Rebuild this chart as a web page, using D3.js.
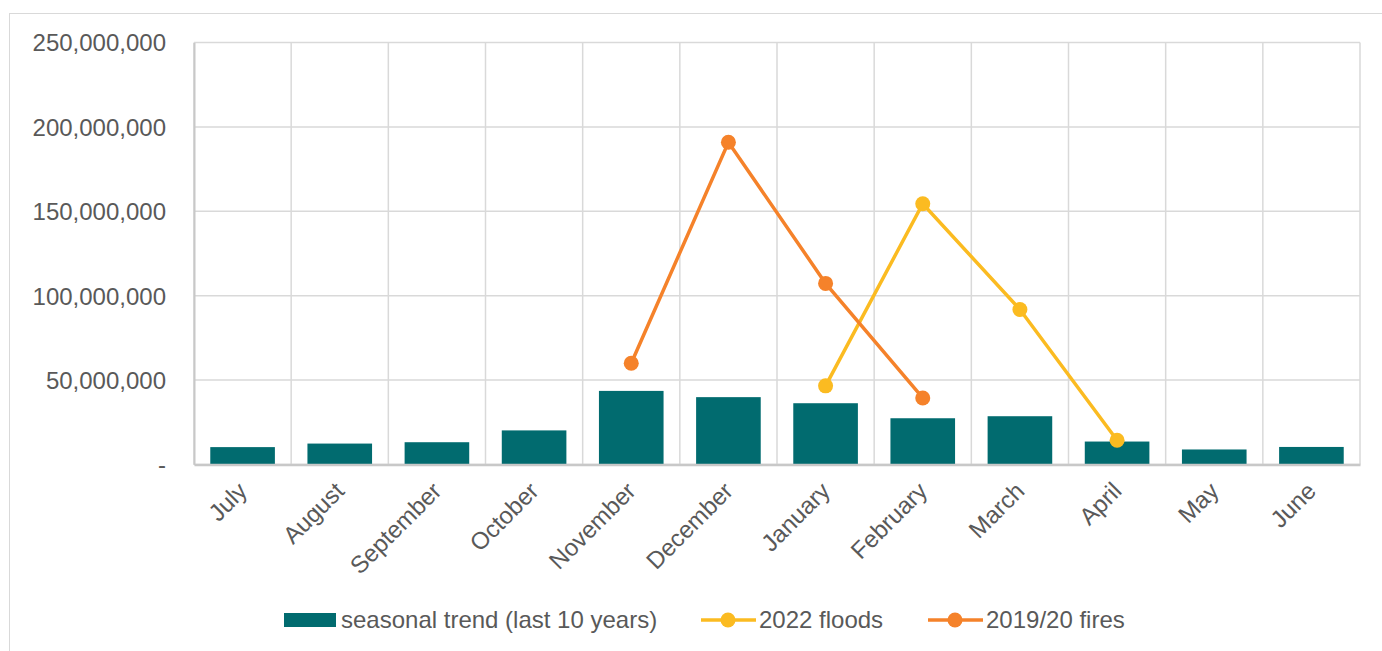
<!DOCTYPE html>
<html>
<head>
<meta charset="utf-8">
<script src="https://d3js.org/d3.v7.min.js"></script>
<style>
  body { margin: 0; background: #fff; }
  text { font-family: "Liberation Sans", Arial, sans-serif; fill: #595959; font-size: 24px; }
</style>
</head>
<body>
<svg width="1382" height="651"></svg>
<script>
var months = ["July", "August", "September", "October", "November", "December",
              "January", "February", "March", "April", "May", "June"];
var seasonal = [10.3, 12.4, 13.2, 20.2, 43.6, 39.9, 36.3, 27.4, 28.6, 13.6, 8.9, 10.4].map(function(v) { return v * 1e6; });
var floodMonths = ["January", "February", "March", "April"];
var floods = [46.6, 154.5, 91.8, 14.4].map(function(v) { return v * 1e6; });
var fireMonths = ["November", "December", "January", "February"];
var fires = [60, 190.9, 107.3, 39.4].map(function(v) { return v * 1e6; });
var yTicks = [0, 50e6, 100e6, 150e6, 200e6, 250e6];

var teal = "#016b6f", yellow = "#fbbb21", orange = "#f5822a";

var svg = d3.select("svg");
var margin = { left: 194, right: 22, top: 42.5, bottom: 186.5 };
var width = 1382 - margin.left - margin.right;
var height = 651 - margin.top - margin.bottom;

// outer chart frame
svg.append("rect")
  .attr("x", 9.5).attr("y", 13.5)
  .attr("width", 1382).attr("height", 660)
  .attr("fill", "none").attr("stroke", "#d9d9d9");

var g = svg.append("g").attr("transform", "translate(" + margin.left + "," + margin.top + ")");

var x = d3.scaleBand().domain(months).range([0, width]).paddingInner(0.335).paddingOuter(0.1675);
var y = d3.scaleLinear().domain([0, 250e6]).range([height, 0]);
var step = x.step();

// grid
g.selectAll(".hgrid").data(yTicks).enter().append("line")
  .attr("x1", 0).attr("x2", width)
  .attr("y1", function(d) { return y(d); }).attr("y2", function(d) { return y(d); })
  .attr("stroke", "#d9d9d9").attr("stroke-width", 1.5);
g.selectAll(".vgrid").data(d3.range(months.length + 1)).enter().append("line")
  .attr("x1", function(i) { return i * step; }).attr("x2", function(i) { return i * step; })
  .attr("y1", 0).attr("y2", height)
  .attr("stroke", "#d9d9d9").attr("stroke-width", 1.5);

// y axis
var yAxis = g.append("g").call(d3.axisLeft(y).tickValues(yTicks).tickSize(0).tickPadding(28)
  .tickFormat(function(d) { return d === 0 ? "-" : d3.format(",")(d); }));
yAxis.select(".domain").attr("stroke", "#c8c8c8").attr("stroke-width", 2);
yAxis.selectAll("text").attr("dy", "0.35em");

// bars
g.selectAll(".bar").data(seasonal).enter().append("rect")
  .attr("x", function(d, i) { return x(months[i]); })
  .attr("y", function(d) { return y(d); })
  .attr("width", x.bandwidth())
  .attr("height", function(d) { return height - y(d); })
  .attr("fill", teal);

// x axis
var xAxis = g.append("g").attr("transform", "translate(0," + height + ")")
  .call(d3.axisBottom(x).tickSize(0).tickPadding(0));
xAxis.select(".domain").attr("stroke", "#c8c8c8").attr("stroke-width", 2.5);
xAxis.selectAll("text")
  .attr("text-anchor", "end")
  .attr("dy", "0")
  .attr("transform", "translate(6,28) rotate(-45)");

// lines
function drawLine(cats, vals, color) {
  var pts = cats.map(function(c, i) { return [x(c) + x.bandwidth() / 2, y(vals[i])]; });
  g.append("path").datum(pts)
    .attr("d", d3.line())
    .attr("fill", "none").attr("stroke", color).attr("stroke-width", 3.5);
  g.selectAll(null).data(pts).enter().append("circle")
    .attr("cx", function(d) { return d[0]; }).attr("cy", function(d) { return d[1]; })
    .attr("r", 7.5).attr("fill", color);
}
drawLine(floodMonths, floods, yellow);
drawLine(fireMonths, fires, orange);

// legend
var lg = svg.append("g").attr("transform", "translate(0,620)");
lg.append("rect").attr("x", 284).attr("y", -7).attr("width", 52).attr("height", 14).attr("fill", teal);
lg.append("text").attr("x", 341).attr("dy", "0.35em").text("seasonal trend (last 10 years)");
[[701, yellow, "2022 floods"], [928, orange, "2019/20 fires"]].forEach(function(it) {
  lg.append("line").attr("x1", it[0]).attr("x2", it[0] + 55).attr("stroke", it[1]).attr("stroke-width", 3.5);
  lg.append("circle").attr("cx", it[0] + 27).attr("r", 7.5).attr("fill", it[1]);
  lg.append("text").attr("x", it[0] + 58).attr("dy", "0.35em").text(it[2]);
});
</script>
</body>
</html>
